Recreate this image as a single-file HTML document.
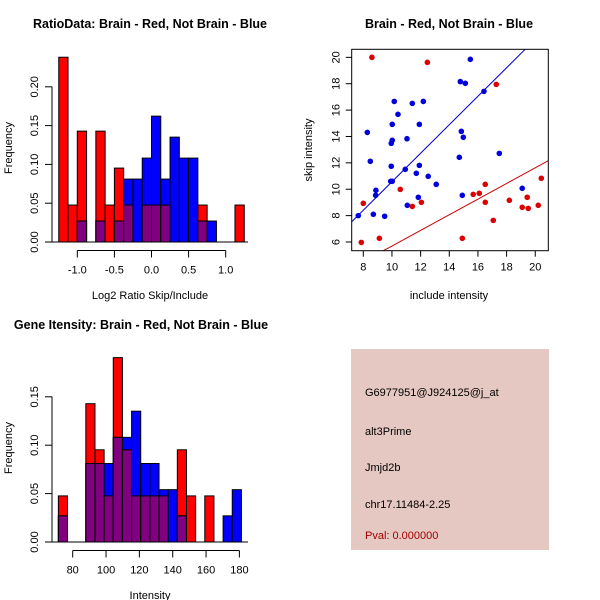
<!DOCTYPE html>
<html><head><meta charset="utf-8"><style>
html,body{margin:0;padding:0;background:#fff;}
svg{display:block;font-family:"Liberation Sans",sans-serif;}
</style></head><body>
<svg id="fig" width="600" height="600" viewBox="0 0 600 600" xmlns="http://www.w3.org/2000/svg">
<rect width="600" height="600" fill="#fff"/>
<g id="p1"></g>
<g id="p2"></g>
<g id="p3"></g>
<g>
<rect x="351" y="349" width="198" height="201" fill="#e6c8c2"/>
<text x="365" y="396" font-size="11" fill="#000">G6977951@J924125@j_at</text>
<text x="365" y="435" font-size="11" fill="#000">alt3Prime</text>
<text x="365" y="471" font-size="11" fill="#000">Jmjd2b</text>
<text x="365" y="508" font-size="11" fill="#000">chr17.11484-2.25</text>
<text x="365" y="539" font-size="11" fill="#a00000">Pval: 0.000000</text>
</g>
</svg>
<script>
const NS="http://www.w3.org/2000/svg";
// ---- Data: ratio histogram ----
const ratioBreakStart=-1.25;
const ratioBinWidth=0.125;
const ratioRed=[5/21,1/21,3/21,0,3/21,1/21,2/21,1/21,0,1/21,1/21,1/21,0,0,0,1/21,0,0,0,1/21];
const ratioBlue=[0,0,1/37,0,1/37,0,1/37,3/37,3/37,4/37,6/37,3/37,5/37,4/37,4/37,1/37,1/37,0,0,0];
const ratioXTicks=[-1.0,-0.5,0.0,0.5,1.0];
const ratioXTickLabels=["-1.0","-0.5","0.0","0.5","1.0"];
const ratioYTicks=[0,0.05,0.10,0.15,0.20];
const ratioYTickLabels=["0.00","0.05","0.10","0.15","0.20"];
// ---- Data: gene intensity histogram ----
const geneBreakStart=71.4;
const geneBinWidth=5.49;
const geneRed=[1/21,0,0,3/21,2/21,1/21,4/21,2/21,1/21,1/21,1/21,1/21,0,2/21,1/21,0,1/21,0,0,0];
const geneBlue=[1/37,0,0,3/37,3/37,3/37,4/37,4/37,5/37,3/37,3/37,2/37,2/37,1/37,0,0,0,0,1/37,2/37];
const geneXTicks=[80,100,120,140,160,180];
const geneXTickLabels=["80","100","120","140","160","180"];
const geneYTicks=[0,0.05,0.10,0.15];
const geneYTickLabels=["0.00","0.05","0.10","0.15"];
// ---- Data: scatter ----
const blueX=[7.65,8.28,8.49,8.88,8.86,8.70,9.49,10.16,10.42,10.02,10.02,9.95,9.95,9.91,10.02,11.05,11.42,12.19,11.91,10.93,11.91,11.70,12.53,13.09,11.07,11.84,14.77,15.12,15.47,14.84,14.98,14.70,14.91,16.42,17.49,19.09];
const blueY=[8.0,14.31,12.12,9.92,9.54,8.10,7.95,16.66,15.68,14.92,13.71,13.48,11.74,10.60,10.60,13.83,16.51,16.66,14.92,11.51,11.81,11.21,10.98,10.37,8.78,9.39,18.16,18.03,19.85,14.39,13.94,12.42,9.54,17.42,12.72,10.07];
const redX=[8.60,12.47,17.28,8.0,7.86,9.12,10.58,11.42,12.05,14.91,15.67,16.09,16.51,16.51,17.07,18.19,19.09,19.44,19.51,20.21,20.42];
const redY=[20.0,19.62,17.95,8.93,5.97,6.28,9.99,8.70,9.01,6.28,9.61,9.69,10.37,9.01,7.64,9.16,8.63,9.39,8.55,8.78,10.83];
const blueFit=[-0.23,1.08]; // intercept, slope
const redFit=[-0.236,0.593];
const scatXTicks=[8,10,12,14,16,18,20];
const scatYTicks=[6,8,10,12,14,16,18,20];

function el(parent,tag,attrs){const e=document.createElementNS(NS,tag);for(const k in attrs)e.setAttribute(k,attrs[k]);parent.appendChild(e);return e;}
function txt(parent,x,y,s,attrs){const t=el(parent,'text',Object.assign({x:x,y:y,'font-size':11,fill:'#000','text-anchor':'middle'},attrs||{}));t.textContent=s;return t;}

function hist(g,o){
  const sx=v=>o.x0px+(v-o.x0v)*o.kx;
  const sy=v=>o.y0px-v*o.ky;
  for(let i=0;i<o.red.length;i++){
    const a=o.start+i*o.w,b=a+o.w;
    const xa=sx(a),xb=sx(b);
    const r=o.red[i],bl=o.blue[i],m=Math.min(r,bl);
    if(r>0){const e=el(g,'rect',{x:xa,y:sy(r),width:xb-xa,height:sy(0)-sy(r),fill:'#ff0000',stroke:'#000','stroke-width':1});
      }
    if(bl>0){const e=el(g,'rect',{x:xa,y:sy(bl),width:xb-xa,height:sy(0)-sy(bl),fill:'#0000ff',stroke:'#000','stroke-width':1});
      }
    if(m>0){const e=el(g,'rect',{x:xa,y:sy(m),width:xb-xa,height:sy(0)-sy(m),fill:'#800080',stroke:'#000','stroke-width':1});
      }
  }
  const bl=el(g,'line',{x1:52,x2:248,y1:sy(0),y2:sy(0),stroke:'#000'});
  
  const yt=o.yTicks;
  const ya=el(g,'line',{x1:52,x2:52,y1:sy(yt[0]),y2:sy(yt[yt.length-1]),stroke:'#000'});
  
  yt.forEach((v,i)=>{el(g,'line',{x1:45,x2:52,y1:sy(v),y2:sy(v),stroke:'#000'});
    const t=txt(g,0,0,o.yLabels[i],{transform:`translate(38,${sy(v)}) rotate(-90)`});
    });
  const xt=o.xTicks, ay=o.y0px+8.5;
  const xa=el(g,'line',{x1:sx(xt[0]),x2:sx(xt[xt.length-1]),y1:ay,y2:ay,stroke:'#000'});
  
  xt.forEach((v,i)=>{el(g,'line',{x1:sx(v),x2:sx(v),y1:ay,y2:ay+7,stroke:'#000'});
    const t=txt(g,sx(v),ay+23,o.xLabels[i]);
    });
  const xl=txt(g,150,o.xLabelY,o.xTitle);
  
  const yl=txt(g,0,0,'Frequency',{transform:`translate(12,${o.yTitleY}) rotate(-90)`});
  
  const ti=txt(g,o.titleX,o.titleY,o.title,{'font-weight':'bold','font-size':12.5});
  
}

hist(document.getElementById('p1'),{red:ratioRed,blue:ratioBlue,start:ratioBreakStart,w:ratioBinWidth,
  x0v:-1,x0px:77.3,kx:74.2,y0px:242,ky:776,xTicks:ratioXTicks,xLabels:ratioXTickLabels,yTicks:ratioYTicks,yLabels:ratioYTickLabels,
  xTitle:'Log2 Ratio Skip/Include',xLabelY:299,yTitleY:148,title:'RatioData: Brain - Red, Not Brain - Blue',titleX:150,titleY:28});
hist(document.getElementById('p3'),{red:geneRed,blue:geneBlue,start:geneBreakStart,w:geneBinWidth,
  x0v:80,x0px:72.7,kx:1.667,y0px:542,ky:968,xTicks:geneXTicks,xLabels:geneXTickLabels,yTicks:geneYTicks,yLabels:geneYTickLabels,
  xTitle:'Intensity',xLabelY:599,yTitleY:448,title:'Gene Itensity: Brain - Red, Not Brain - Blue',titleX:141,titleY:329});

(function(){
  const g=document.getElementById('p2');
  const L=351.7,R=548.3,T=49.3,B=250.7;
  const sx=v=>363.3+(v-8)*14.33, sy=v=>242-(v-6)*13.19;
  const fx=v=>(v-363.3)/14.33+8;
  const clip=el(g,'clipPath',{id:'sc'});el(clip,'rect',{x:L,y:T,width:R-L,height:B-T});
  [[blueFit,'#0000cc','blue-fit-line'],[redFit,'#cc0000','red-fit-line']].forEach(([f,c,n])=>{
    const x1=fx(L),x2=fx(R);
    const l=el(g,'line',{x1:L,x2:R,y1:sy(f[0]+f[1]*x1),y2:sy(f[0]+f[1]*x2),stroke:c,'stroke-width':1,'clip-path':'url(#sc)'});
    });
  blueX.forEach((x,i)=>{const c=el(g,'circle',{cx:sx(x),cy:sy(blueY[i]),r:2.8,fill:'#0000dd'});
    });
  redX.forEach((x,i)=>{const c=el(g,'circle',{cx:sx(x),cy:sy(redY[i]),r:2.8,fill:'#dd0000'});
    });
  const box=el(g,'rect',{x:L,y:T,width:R-L,height:B-T,fill:'none',stroke:'#000'});
  
  scatXTicks.forEach(v=>{el(g,'line',{x1:sx(v),x2:sx(v),y1:B,y2:B+6,stroke:'#000'});
    const t=txt(g,sx(v),B+20,String(v));});
  scatYTicks.forEach(v=>{el(g,'line',{x1:L-6,x2:L,y1:sy(v),y2:sy(v),stroke:'#000'});
    const t=txt(g,0,0,String(v),{transform:`translate(${L-12},${sy(v)}) rotate(-90)`});
    });
  const xl=txt(g,449,299,'include intensity',{'font-size':11});
  const yl=txt(g,0,0,'skip intensity',{'font-size':11,transform:'translate(312,150) rotate(-90)'});
  const ti=txt(g,449,28,'Brain - Red, Not Brain - Blue',{'font-weight':'bold','font-size':12.5});
})();
</script>
</body></html>
